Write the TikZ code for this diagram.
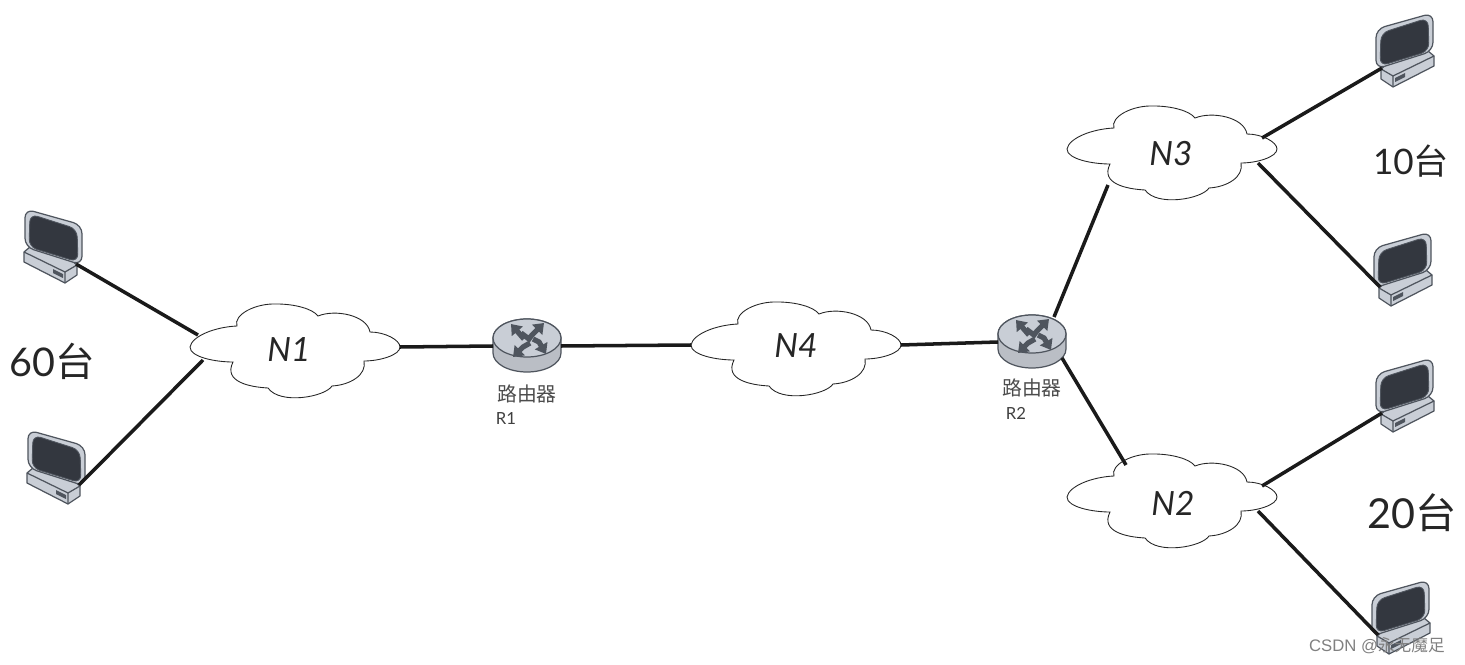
\documentclass[tikz,border=0pt]{standalone}
\usepackage{fontspec}
\setmainfont{Lato}
\newfontfamily\cjkfont{Noto Sans CJK SC}
\usetikzlibrary{arrows.meta}

\definecolor{inkdark}{HTML}{33373F}
\definecolor{bezel}{HTML}{C9CED6}
\definecolor{edgegray}{HTML}{4F555E}
\definecolor{wiredark}{HTML}{1A1A1A}

\tikzset{
  wire/.style={line width=2pt, wiredark},
  netlabel/.style={font=\itshape\fontsize{19}{19}\selectfont, text=black!85},
  countlabel/.style={font=\fontsize{20}{20}\selectfont, text=black!85},
  routerlabel/.style={font=\cjkfont\fontsize{11.3}{11.3}\selectfont, text=black!70},
  routerid/.style={font=\fontsize{9.5}{9.5}\selectfont, text=black!75},
  routerarrow/.style={draw=edgegray, line width=3pt, -{Triangle[width=8pt,length=5.5pt]}},
  % Network cloud
  cloudpic/.pic={
    \draw[draw=black!85, fill=white, line width=0.5pt]
      (-105,0) .. controls (-103,11) and (-80,20) .. (-58,21)
      .. controls (-62,32) and (-40,44) .. (-18,43)
      .. controls (0,43) and (18,38) .. (23,31)
      .. controls (40,38) and (72,32) .. (75,15)
      .. controls (90,15) and (105,7) .. (105,0)
      .. controls (105,-8) and (85,-14) .. (69,-14)
      .. controls (72,-28) and (55,-38) .. (37,-39)
      .. controls (30,-50) and (-15,-58) .. (-27,-41)
      .. controls (-45,-40) and (-72,-35) .. (-62,-15)
      .. controls (-80,-15) and (-105,-10) .. (-105,0) -- cycle;
    \coordinate (-w) at (-105,0);
    \coordinate (-e) at (105,0);
    \coordinate (-wu) at (-97,12);
    \coordinate (-wl) at (-92,-13);
    \coordinate (-eu) at (90,11);
    \coordinate (-el) at (86,-14);
    \coordinate (-s) at (-64,-36);
    \coordinate (-n) at (-46,32);
  },
  % Computer with its monitor
  monitorpic/.pic={
    \draw[draw=edgegray, fill=bezel, line width=0.7pt, line join=round]
      (-28,-5) -- (-10,10) -- (25,-18) -- (25,-28) -- (13,-36) -- (-28,-15) -- cycle;
    \draw[draw=edgegray, line width=0.7pt, line join=round]
      (-28,-5) -- (13,-25) -- (25,-18) (13,-25) -- (13,-36);
    \fill[edgegray] (1,-22) -- (11,-27) -- (11,-31) -- (1,-26) -- cycle;
    \draw[draw=edgegray, fill=bezel, line width=0.7pt, rounded corners=5pt]
      (-27,38) -- (30,22) -- (30,-18) -- (-27,0) -- cycle;
    \draw[draw=edgegray, fill=inkdark, line width=0.5pt, rounded corners=4.5pt]
      (-22,33) -- (25,18) -- (26,-15) -- (-23,0) -- cycle;
    \coordinate (-plug) at (24,-17);
  },
  % Router with four arrows
  routerpic/.pic={
    \draw[draw=edgegray, fill=bezel!80!gray, line width=0.7pt]
      (-34,0) -- (-34,-15) arc[start angle=180, end angle=360, x radius=34, y radius=19]
      -- (34,0) arc[start angle=0, end angle=180, x radius=34, y radius=19] -- cycle;
    \draw[draw=edgegray, fill=bezel, line width=0.7pt] (0,0) ellipse[x radius=34, y radius=19];
    \draw[routerarrow] (-3,-1) -- (-16,14);
    \draw[routerarrow] (-6,5) -- (2,-1) -- (5,3) -- (17,15);
    \draw[routerarrow] (3,-5) -- (-4,-9) -- (-14,-19);
    \draw[routerarrow] (6,-1) -- (12,-4) -- (19,-16);
    \coordinate (-w) at (-34,-8);
    \coordinate (-e) at (34,-8);
    \coordinate (-n) at (22,17);
    \coordinate (-s) at (30,-24);
  }
}

\begin{document}
\begin{tikzpicture}[x=0.02cm, y=0.02cm]
  \useasboundingbox (0,0) rectangle (1465,664);
  % Clouds
  \pic (N1) at (295,317) {cloudpic};
  \pic (N4) at (796,319) {cloudpic};
  \pic (N3) at (1172,515) {cloudpic};
  \pic (N2) at (1172,167) {cloudpic};
  % Routers
  \pic (R1) at (527,326) {routerpic};
  \pic (R2) at (1032,330) {routerpic};
  % Computers
  \pic (P1) at (52,417) {monitorpic};
  \pic (P2) at (55,196) {monitorpic};
  \pic[xscale=-1] (P3) at (1406,613) {monitorpic};
  \pic[xscale=-1] (P4) at (1404,394) {monitorpic};
  \pic[xscale=-1] (P5) at (1406,268) {monitorpic};
  \pic[xscale=-1] (P6) at (1402,46) {monitorpic};
  % Links
  \draw[wire] (P1-plug) -- (N1-wu);
  \draw[wire] (P2-plug) -- (N1-wl);
  \draw[wire] (N1-e) -- (R1-w);
  \draw[wire] (R1-e) -- (N4-w);
  \draw[wire] (N4-e) -- (R2-w);
  \draw[wire] (R2-n) -- (N3-s);
  \draw[wire] (R2-s) -- (N2-n);
  \draw[wire] (N3-eu) -- (P3-plug);
  \draw[wire] (N3-el) -- (P4-plug);
  \draw[wire] (N2-eu) -- (P5-plug);
  \draw[wire] (N2-el) -- (P6-plug);
  % Labels
  \node[netlabel] (N1text) at (289,314) {N1};
  \node[netlabel] (N4text) at (796,318) {N4};
  \node[netlabel] (N3text) at (1171,510) {N3};
  \node[netlabel] (N2text) at (1173,161) {N2};
  \node[countlabel, font=\fontsize{22.5}{22.5}\selectfont] (count60) at (52,303) {60{\cjkfont 台}};
  \node[countlabel] (count10) at (1411,503) {10{\cjkfont 台}};
  \node[countlabel, font=\fontsize{23.5}{23.5}\selectfont] (count20) at (1412,151) {20{\cjkfont 台}};
  \node[routerlabel] (R1cn) at (527,270) {路由器};
  \node[routerlabel] (R2cn) at (1032,276) {路由器};
  \node[routerid] (R1id) at (506,245) {R1};
  \node[routerid] (R2id) at (1016,251) {R2};
  \node[font=\fontsize{9.5}{9.5}\selectfont, text=black!50, anchor=east] (mark) at (1451,18)
    {\fontspec{Liberation Sans}CSDN @{\cjkfont 永无魔足}};
\end{tikzpicture}
\end{document}
